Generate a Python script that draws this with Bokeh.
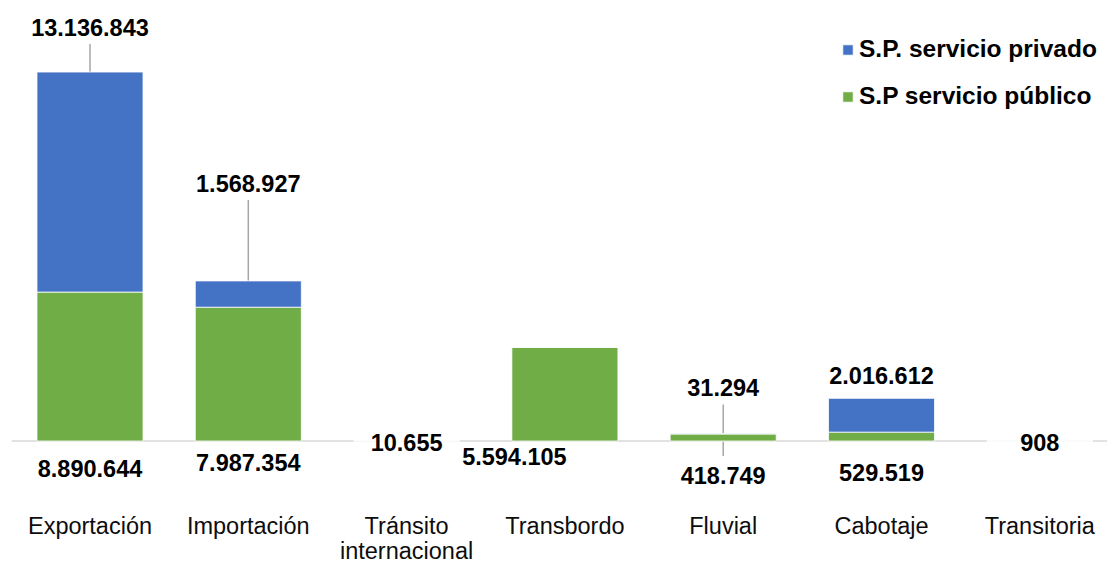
from bokeh.plotting import figure
from bokeh.models import Range1d, ColumnDataSource, Legend, LegendItem, Span
from bokeh.core.properties import value
from bokeh.embed import file_html
from bokeh.resources import INLINE

# ---- data ----
categories = ["Exportación", "Importación", "Tránsito internacional", "Transbordo",
              "Fluvial", "Cabotaje", "Transitoria"]
publico = [8890644, 7987354, 10655, 5594105, 418749, 529519, 908]
privado = [13136843, 1568927, 0, 0, 31294, 2016612, 0]
series_names = ["S.P. servicio privado", "S.P servicio público"]

BLUE = "#4472C4"
GREEN = "#70AD47"
LEADER = "#A6A6A6"
FONT = "Liberation Sans"


def fmt(v):
    return f"{v:,}".replace(",", ".")


# ---- layout constants (pixels) ----
W, H = 1107, 563
BORDER_LEFT = 11
PX_X = 158.3          # px per category
PX_Y = 16.75e-6       # px per unit of value
BASE = 440.5          # px from frame top to baseline
CENTER0 = 89.5 - BORDER_LEFT   # px from frame left to first category centre

x_start = -CENTER0 / PX_X
x_end = x_start + (W - BORDER_LEFT) / PX_X
y_end = BASE / PX_Y
y_start = -(H - BASE) / PX_Y

n = len(categories)
xs = list(range(n))
totals = [a + b for a, b in zip(publico, privado)]

p = figure(width=W, height=H, x_range=Range1d(x_start, x_end), y_range=Range1d(y_start, y_end),
           output_backend="svg", toolbar_location=None,
           x_axis_location=None, y_axis_location=None,
           min_border_left=BORDER_LEFT, min_border_right=0, min_border_top=0, min_border_bottom=0)
p.grid.visible = False
p.outline_line_color = None
p.background_fill_color = "white"
p.border_fill_color = "white"

# baseline
p.add_layout(Span(location=0, dimension="width", line_color="#D9D9D9", line_width=1.5, level="underlay"))

src = ColumnDataSource(dict(x=xs, pub=publico, priv=privado))
r_pub, r_priv = p.vbar_stack(["pub", "priv"], x="x", width=0.67, color=[GREEN, BLUE],
                             line_color="white", line_width=0.8, source=src)

# ---- label placement (pixel offsets) ----
priv_dy = [-44.5, -97, 0, 0, -45.5, -23, 0]       # label centre above stack top
priv_lead = [28, 81, 0, 0, 29, 0, 0]             # leader length above stack top
pub_dy = [27.5, 21, 1.5, 15, 34.5, 31, 1.5]       # label centre below baseline
pub_dx = [0, 0, 0, -50.5, 0, 0, 0]
pub_lead = [0, 0, 0, 0, 15, 0, 0]                # leader below baseline

pl_x, pl_y, pl_t = [], [], []
lx0, ly0, lx1, ly1 = [], [], [], []
for i in range(n):
    if privado[i] > 0:
        pl_x.append(xs[i])
        pl_y.append(totals[i] - priv_dy[i] / PX_Y)
        pl_t.append(fmt(privado[i]))
        if priv_lead[i] > 0:
            lx0.append(xs[i]); lx1.append(xs[i])
            ly0.append(totals[i]); ly1.append(totals[i] + priv_lead[i] / PX_Y)
    if pub_lead[i] > 0:
        lx0.append(xs[i]); lx1.append(xs[i])
        ly0.append(0); ly1.append(-pub_lead[i] / PX_Y)

p.segment(x0=lx0, y0=ly0, x1=lx1, y1=ly1, line_color=LEADER, line_width=1.5, level="underlay")

p.text(x=pl_x, y=pl_y, text=pl_t, text_align="center", text_baseline="middle",
       text_font=value(FONT), text_font_style="bold", text_font_size=value("23.5px"),
       text_color="#000000")

pb_x = [xs[i] + pub_dx[i] / PX_X for i in range(n)]
pb_y = [-pub_dy[i] / PX_Y for i in range(n)]
pb_t = [fmt(v) for v in publico]
p.text(x=pb_x, y=pb_y, text=pb_t, text_align="center", text_baseline="middle",
       text_font=value(FONT), text_font_style="bold", text_font_size=value("23.5px"),
       text_color="#000000")

# category labels (split on space into two lines)
line1 = [c.split(" ", 1)[0] for c in categories]
line2 = [c.split(" ", 1)[1] if " " in c else "" for c in categories]
CAT1 = 525 - BASE
CAT2 = 550.5 - BASE
p.text(x=xs, y=[-CAT1 / PX_Y] * n, text=line1, text_align="center", text_baseline="middle",
       text_font=value(FONT), text_font_size=value("23.5px"), text_color="#0D0D0D")
p.text(x=xs, y=[-CAT2 / PX_Y] * n, text=line2, text_align="center", text_baseline="middle",
       text_font=value(FONT), text_font_size=value("23.5px"), text_color="#0D0D0D")

legend = Legend(items=[LegendItem(label=series_names[0], renderers=[r_priv]),
                       LegendItem(label=series_names[1], renderers=[r_pub])],
                location=(830, 453), orientation="vertical", padding=0, margin=0,
                spacing=19, glyph_width=13, glyph_height=13, label_height=27,
                label_standoff=5, label_text_font=FONT, label_text_font_style="bold",
                label_text_font_size="24.5px", label_text_color="#000000",
                background_fill_alpha=0, border_line_alpha=0)
p.add_layout(legend)

open("out.html", "w").write(file_html(p, INLINE))
